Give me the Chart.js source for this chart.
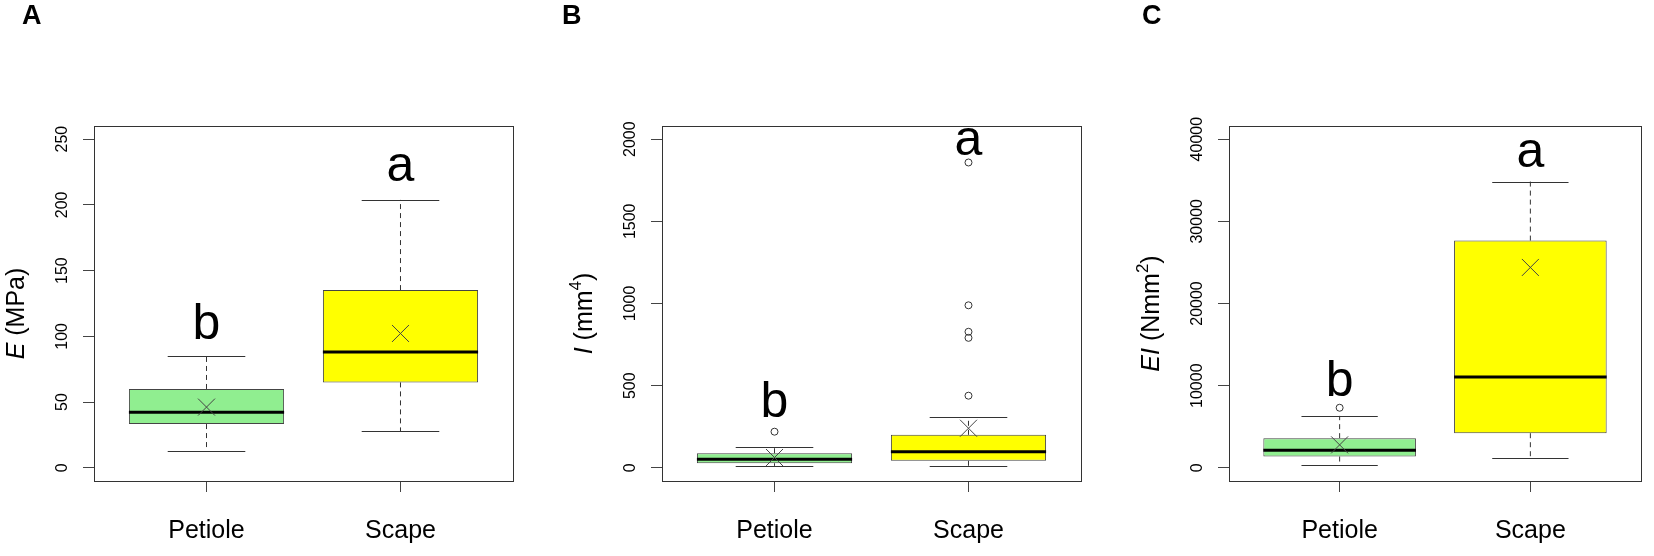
<!DOCTYPE html>
<html>
<head>
<meta charset="utf-8">
<script src="https://cdn.jsdelivr.net/npm/chart.js@4.4.1/dist/chart.umd.min.js"></script>
<style>
  body { margin: 0; background: #fff; }
  #wrap { position: relative; width: 1654px; height: 556px; }
  .panel { position: absolute; top: 0; height: 556px; }
</style>
</head>
<body>
<div id="wrap">
  <div class="panel" style="left:0;width:551px"><canvas id="chartA"></canvas></div>
  <div class="panel" style="left:551px;width:551px"><canvas id="chartB"></canvas></div>
  <div class="panel" style="left:1102px;width:552px"><canvas id="chartC"></canvas></div>
</div>
<script>
// groups and significance letters (same for all three panels)
const categories = ["Petiole", "Scape"];
const letters = ["b", "a"];
const boxColors = ["#90EE90", "#FFFF00"];

// A: E (MPa)
const eTicks = [0, 50, 100, 150, 200, 250];
const eLow = [12.6, 28];
const eQ1 = [33.3, 65];
const eMedian = [42.2, 88.2];
const eQ3 = [60, 135.2];
const eHigh = [85, 203.8];
const eMean = [46.2, 102.2];
const eOutliers = [[], []];

// B: I (mm4)
const iTicks = [0, 500, 1000, 1500, 2000];
const iLow = [12, 11];
const iQ1 = [28, 43];
const iMedian = [52, 98];
const iQ3 = [89, 201];
const iHigh = [128, 310];
const iMean = [63, 241];
const iOutliers = [[220], [439, 791, 828, 989, 1858]];

// C: EI (Nmm2)
const eiTicks = [0, 10000, 20000, 30000, 40000];
const eiLow = [344, 1204];
const eiQ1 = [1376, 4215];
const eiMedian = [2150, 11054];
const eiQ3 = [3613, 27656];
const eiHigh = [6323, 34839];
const eiMean = [2796, 24387];
const eiOutliers = [[7312], []];

const FONT = "'Liberation Sans', Arial, sans-serif";

// whiskers, staples, medians, labels and the frame, all placed through the chart scales
const boxParts = {
  id: "boxParts",
  beforeDatasetsDraw(chart) {
    const c = chart.ctx, x = chart.scales.x, y = chart.scales.y, p = chart.options.plugins.boxParts;
    c.save();
    c.strokeStyle = "#333";
    c.lineWidth = 1;
    for (let i = 0; i < categories.length; i++) {
      const cx = x.getPixelForValue(i + 1);
      c.setLineDash([5, 4]);
      c.beginPath();
      c.moveTo(cx, y.getPixelForValue(p.q3[i]));
      c.lineTo(cx, y.getPixelForValue(p.high[i]));
      c.moveTo(cx, y.getPixelForValue(p.q1[i]));
      c.lineTo(cx, y.getPixelForValue(p.low[i]));
      c.stroke();
      c.setLineDash([]);
      const l = x.getPixelForValue(i + 1 - 0.2), r = x.getPixelForValue(i + 1 + 0.2);
      c.beginPath();
      [p.high[i], p.low[i]].forEach(v => {
        const py = Math.round(y.getPixelForValue(v)) + 0.5;
        c.moveTo(l, py);
        c.lineTo(r, py);
      });
      c.stroke();
    }
    c.restore();
  },
  afterDatasetDraw(chart, args) {
    if (args.index !== 0) return;
    const c = chart.ctx, x = chart.scales.x, y = chart.scales.y, p = chart.options.plugins.boxParts;
    c.save();
    c.strokeStyle = "#000";
    c.lineWidth = 3;
    for (let i = 0; i < categories.length; i++) {
      const py = y.getPixelForValue(p.median[i]);
      c.beginPath();
      c.moveTo(x.getPixelForValue(i + 1 - 0.4), py);
      c.lineTo(x.getPixelForValue(i + 1 + 0.4), py);
      c.stroke();
    }
    c.restore();
  },
  afterDraw(chart) {
    const c = chart.ctx, a = chart.chartArea, x = chart.scales.x, y = chart.scales.y;
    const p = chart.options.plugins.boxParts;
    c.save();
    c.strokeStyle = "#333";
    c.lineWidth = 1;
    c.strokeRect(Math.round(a.left) + 0.5, Math.round(a.top) + 0.5,
      Math.round(a.right - a.left), Math.round(a.bottom - a.top));

    c.fillStyle = "#000";
    // y tick labels, parallel to the axis
    c.font = "16px " + FONT;
    c.textAlign = "center";
    c.textBaseline = "middle";
    y.ticks.forEach(t => {
      c.save();
      c.translate(a.left - 31, y.getPixelForValue(t.value));
      c.rotate(-Math.PI / 2);
      c.fillText(String(t.value), 0, 0);
      c.restore();
    });
    // x tick labels
    c.font = "25px " + FONT;
    c.textBaseline = "alphabetic";
    x.ticks.forEach(t => {
      c.fillText(categories[t.value - 1], x.getPixelForValue(t.value), a.bottom + 57);
    });
    // significance letters
    c.font = "50px " + FONT;
    for (let i = 0; i < categories.length; i++) {
      c.fillText(letters[i], x.getPixelForValue(i + 1), y.getPixelForValue(p.letterAt[i]));
    }
    // axis title, mixed italic and superscript pieces
    c.save();
    c.translate(a.left - 77, (a.top + a.bottom) / 2 + 10);
    c.rotate(-Math.PI / 2);
    const fontOf = s => (s.italic ? "italic " : "") + (s.sup ? "17px " : "25px ") + FONT;
    let total = 0;
    p.title.forEach(s => { c.font = fontOf(s); total += c.measureText(s.text).width; });
    let tx = -total / 2;
    c.textAlign = "left";
    c.textBaseline = "middle";
    p.title.forEach(s => {
      c.font = fontOf(s);
      c.fillText(s.text, tx, s.sup ? -9 : 0);
      tx += c.measureText(s.text).width;
    });
    c.restore();
    // panel letter
    c.font = "bold 27px " + FONT;
    c.textAlign = "left";
    c.fillText(p.panel, p.panelX, 24);
    c.restore();
  }
};

function makePanel(id, d) {
  new Chart(document.getElementById(id), {
    type: "bar",
    data: {
      datasets: [
        {
          data: categories.map((c, i) => ({ x: i + 1, y: [d.q1[i], d.q3[i]] })),
          backgroundColor: boxColors,
          borderColor: "#444",
          borderWidth: 1,
          borderSkipped: false,
          categoryPercentage: 1,
          barPercentage: 0.8,
          order: 3
        },
        {
          type: "scatter",
          data: categories.map((c, i) => ({ x: i + 1, y: d.mean[i] })),
          pointStyle: "crossRot",
          radius: 12,
          borderColor: "#444",
          borderWidth: 1,
          order: 1
        },
        {
          type: "scatter",
          data: d.outliers.flatMap((list, i) => list.map(v => ({ x: i + 1, y: v }))),
          pointStyle: "circle",
          radius: 3.5,
          backgroundColor: "rgba(0,0,0,0)",
          borderColor: "#333",
          borderWidth: 1,
          order: 2
        }
      ]
    },
    options: {
      responsive: true,
      maintainAspectRatio: false,
      devicePixelRatio: 1,
      animation: false,
      events: [],
      layout: { padding: { left: d.left, right: d.right, top: 126, bottom: 75 } },
      scales: {
        x: {
          type: "linear",
          min: 0.42,
          max: 2.58,
          offset: false,
          afterBuildTicks: s => { s.ticks = categories.map((c, i) => ({ value: i + 1 })); },
          afterFit: s => { s.height = 0; },
          ticks: { display: false },
          grid: { offset: false, drawOnChartArea: false, tickLength: 11, color: "#444" },
          border: { display: false }
        },
        y: {
          type: "linear",
          min: d.yMin,
          max: d.yMax,
          afterBuildTicks: s => { s.ticks = d.ticks.map(v => ({ value: v })); },
          afterFit: s => { s.width = 0; },
          ticks: { display: false },
          grid: { drawOnChartArea: false, tickLength: 11, color: "#444" },
          border: { display: false }
        }
      },
      plugins: {
        legend: { display: false },
        tooltip: { enabled: false },
        boxParts: d
      }
    },
    plugins: [boxParts]
  });
}

makePanel("chartA", {
  panel: "A", panelX: 22, left: 94, right: 38,
  title: [{ text: "E", italic: true }, { text: " (MPa)" }],
  ticks: eTicks, yMin: -10, yMax: 260,
  low: eLow, q1: eQ1, median: eMedian, q3: eQ3, high: eHigh, mean: eMean, outliers: eOutliers,
  letterAt: [98, 218]
});
makePanel("chartB", {
  panel: "B", panelX: 11, left: 111, right: 21,
  title: [{ text: "I", italic: true }, { text: " (mm" }, { text: "4", sup: true }, { text: ")" }],
  ticks: iTicks, yMin: -80, yMax: 2080,
  low: iLow, q1: iQ1, median: iMedian, q3: iQ3, high: iHigh, mean: iMean, outliers: iOutliers,
  letterAt: [312, 1903]
});
makePanel("chartC", {
  panel: "C", panelX: 40, left: 127, right: 6,
  title: [{ text: "EI", italic: true }, { text: " (Nmm" }, { text: "2", sup: true }, { text: ")" }],
  ticks: eiTicks, yMin: -1600, yMax: 41600,
  low: eiLow, q1: eiQ1, median: eiMedian, q3: eiQ3, high: eiHigh, mean: eiMean, outliers: eiOutliers,
  letterAt: [8688, 36606]
});
</script>
</body>
</html>
